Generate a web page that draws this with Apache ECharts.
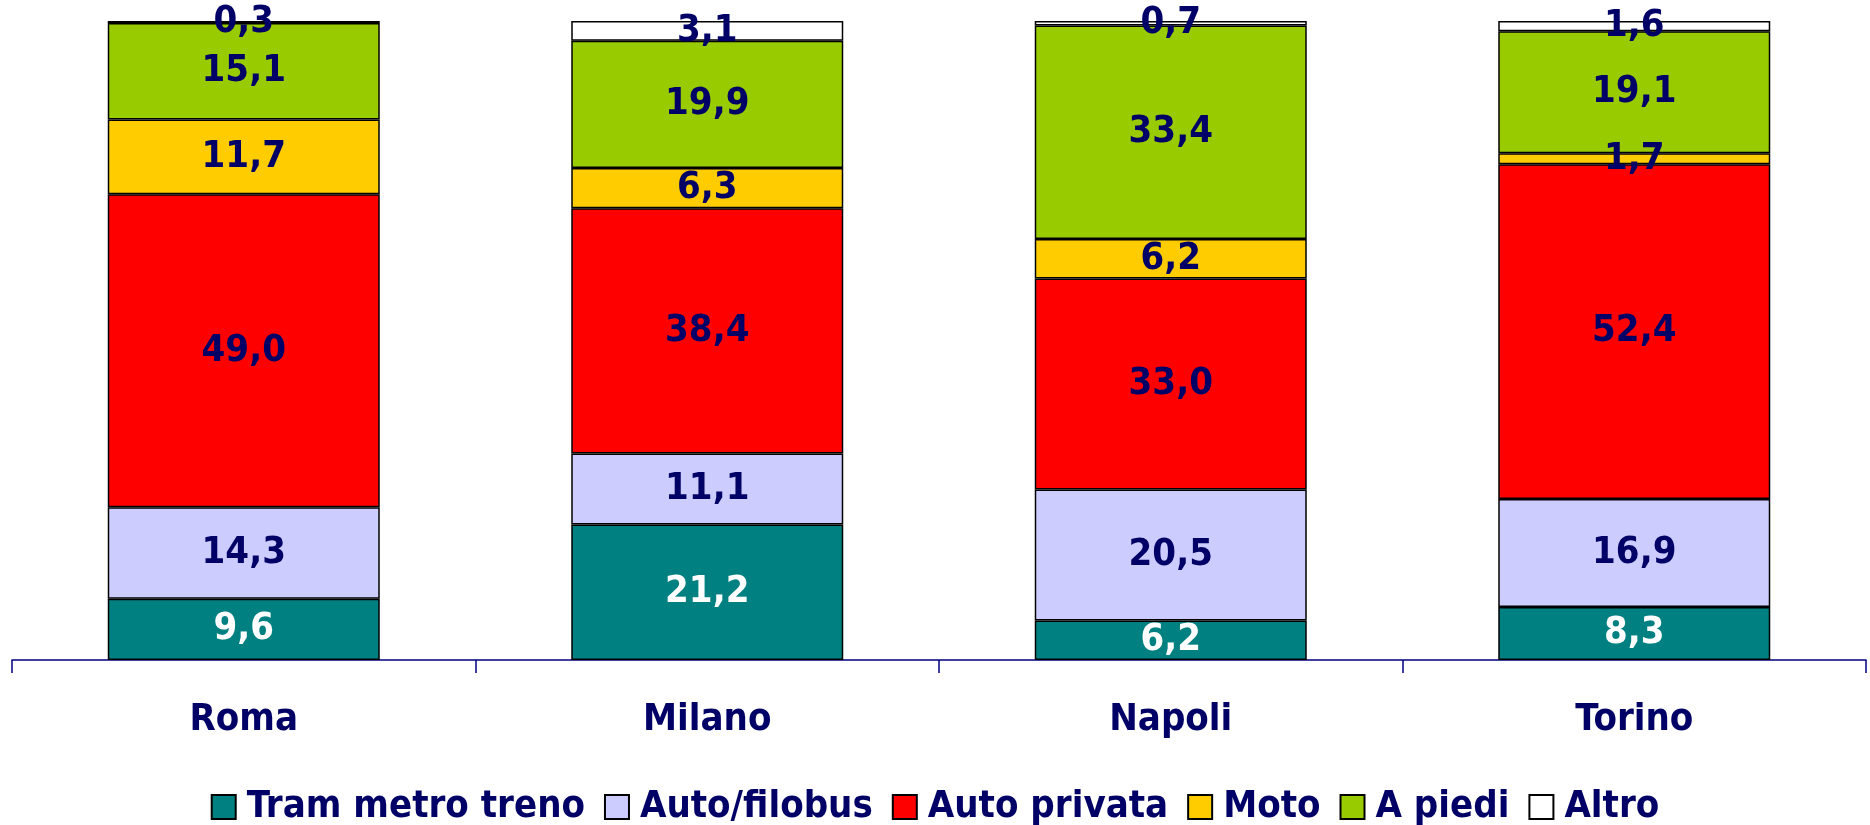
<!DOCTYPE html>
<html><head><meta charset="utf-8">
<script src="https://cdn.jsdelivr.net/npm/echarts@6/dist/echarts.min.js"></script>
<style>html,body{margin:0;padding:0;background:#fff}#c{width:1870px;height:825px}</style>
</head><body><div id="c"></div>
<script>
const categories = ['Roma', 'Milano', 'Napoli', 'Torino'];
const seriesNames = ['Tram metro treno', 'Auto/filobus', 'Auto privata', 'Moto', 'A piedi', 'Altro'];
const tram = [9.6, 21.2, 6.2, 8.3];
const autobus = [14.3, 11.1, 20.5, 16.9];
const autoPrivata = [49.0, 38.4, 33.0, 52.4];
const moto = [11.7, 6.3, 6.2, 1.7];
const piedi = [15.1, 19.9, 33.4, 19.1];
const altro = [0.3, 3.1, 0.7, 1.6];
const seriesData = [tram, autobus, autoPrivata, moto, piedi, altro];
const colors = ['#008080', '#CCCCFF', '#FF0000', '#FFCC00', '#99CC00', '#FFFFFF'];
const FONT = '"DejaVu Sans Condensed", "DejaVu Sans", sans-serif';
const NAVY = '#000066';

const chart = echarts.init(document.getElementById('c'), null, {renderer: 'canvas'});
chart.setOption({
  animation: false,
  grid: {left: 12, right: 4, top: 21, bottom: 165, containLabel: false},
  legend: {
    top: 783, left: 'center',
    itemWidth: 24, itemHeight: 24, itemGap: 19,
    icon: 'rect',
    itemStyle: {borderColor: '#000', borderWidth: 2},
    textStyle: {fontFamily: FONT, fontWeight: 'bold', fontSize: 38, lineHeight: 38, color: NAVY, padding: [0, 0, 0, 6]},
    data: seriesNames
  },
  xAxis: {
    type: 'category', data: categories,
    axisLine: {lineStyle: {color: '#000080', width: 1.5}},
    axisTick: {show: true, length: 13, lineStyle: {color: '#000080', width: 1.5}},
    axisLabel: {fontFamily: FONT, fontWeight: 'bold', fontSize: 38, color: NAVY, margin: 41}
  },
  yAxis: {type: 'value', min: 0, max: 100, show: false, splitLine: {show: false}},
  series: seriesNames.map((n, i) => ({
    name: n, type: 'bar', stack: 'tot', barWidth: 272,
    data: seriesData[i],
    itemStyle: {color: colors[i], borderColor: '#000', borderWidth: 1.5},
    label: {
      show: true, position: 'inside',
      fontFamily: FONT, fontWeight: 'bold', fontSize: 38,
      color: i === 0 ? '#FFFFFF' : NAVY,
      formatter: p => p.value.toFixed(1).replace('.', ',')
    }
  }))
});
</script></body></html>
